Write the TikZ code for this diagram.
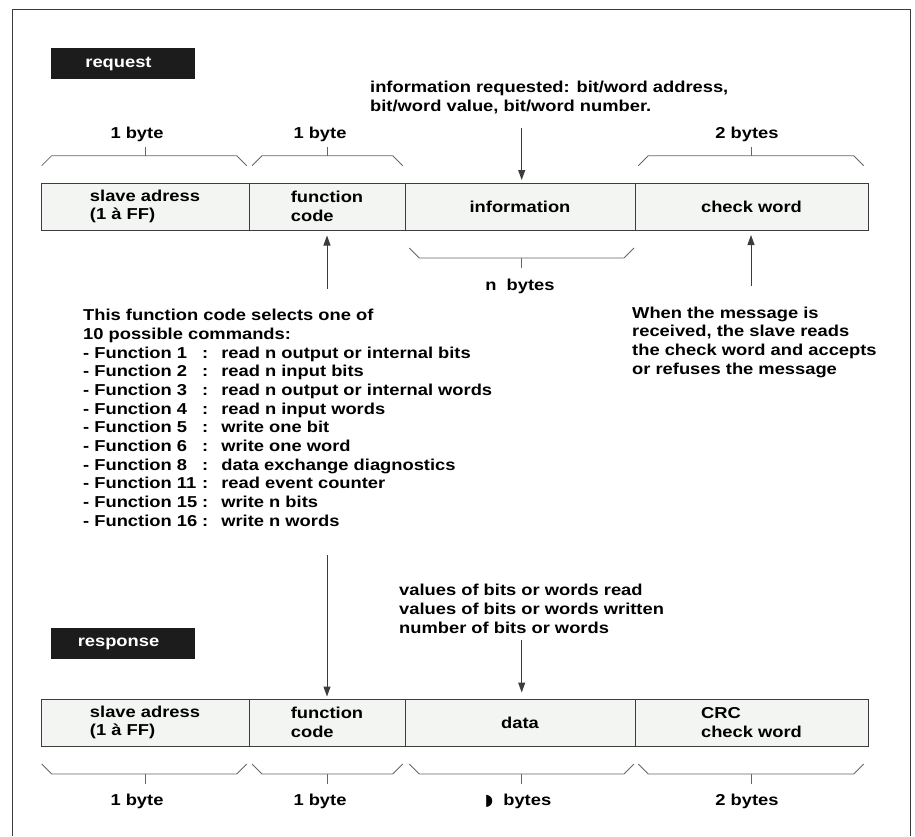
\documentclass[tikz,border=0pt]{standalone}
\usepackage{fontspec}
\setmainfont{Liberation Sans}[FakeStretch=1.16]
\newfontfamily\glyphfont{DejaVu Sans}
\usetikzlibrary{arrows.meta,positioning,calc}
\definecolor{cellfill}{HTML}{F3F5F3}
\definecolor{inkgrey}{HTML}{3C3C3C}
\definecolor{tagblack}{HTML}{1C1C1C}
\newcommand{\fnrow}[2]{\makebox[119pt][l]{- Function #1}:\hspace{13pt}#2}

\tikzset{
  every node/.style={font=\fontsize{15.8}{18.66}\selectfont\bfseries, inner sep=0pt},
  cell/.style={draw=inkgrey, fill=cellfill, line width=1pt, outer sep=0pt, minimum height=47pt, align=left},
  tag/.style={fill=tagblack, minimum width=144pt, minimum height=31pt},
  tagtxt/.style={text=white, xshift=-4.5pt},
  note/.style={align=left, anchor=base west},
  size/.style={anchor=base},
  brace/.style={draw=gray!80!black, line width=0.8pt},
  arr/.style={draw=inkgrey, line width=1pt, -{Triangle[width=7pt,length=10pt]}},
}

\begin{document}
\begin{tikzpicture}[x=1pt,y=-1pt]
\useasboundingbox (0,0) rectangle (915,836);
\draw[inkgrey, line width=1pt] (12,836) -- (12,9) -- (910,9) -- (910,836);

% request frame
\node[tag, label={[tagtxt]center:request}] (reqtag) at (123,63.5) {};
\node[cell, minimum width=208pt] (rslave) at (145,206.5) {slave adress\\(1 à FF)};
\node[cell, minimum width=156pt, right=0pt of rslave] (rfunc) {function\\code};
\node[cell, minimum width=230pt, right=0pt of rfunc] (rinfo) {information};
\node[cell, minimum width=233pt, right=0pt of rinfo] (rcheck) {check word};

\draw[brace] (41.7,165.7) -- ++(10,-10) -- (236.7,155.7) -- ++(10,10);
\draw[brace] (145,155.7) -- ++(0,-9);
\draw[brace] (252,165.7) -- ++(10,-10) -- (392.7,155.7) -- ++(10,10);
\draw[brace] (327,155.7) -- ++(0,-9);
\draw[brace] (638.3,165.7) -- ++(10,-10) -- (853.7,155.7) -- ++(10,10);
\draw[brace] (751,155.7) -- ++(0,-9);
\draw[brace] (409.3,248) -- ++(10,10) -- (624,258) -- ++(10,-10);
\draw[brace] (521.7,258) -- ++(0,10);
\node[size] (rsize1) at (137,138) {1 byte};
\node[size] (rsize2) at (320,138) {1 byte};
\node[size] (rsize4) at (747,138) {2 bytes};
\node[size] (rsize3) at (520,290) {n\ \ bytes};

% base west = baseline of the last line
\node[note] (infonote) at (370,111) {information requested: bit/word address,\\bit/word value, bit/word number.};
\node[note] (funcnote) at (83,526) {This function code selects one of\\10 possible commands:\\
  \fnrow{1}{read n output or internal bits}\\
  \fnrow{2}{read n input bits}\\
  \fnrow{3}{read n output or internal words}\\
  \fnrow{4}{read n input words}\\
  \fnrow{5}{write one bit}\\
  \fnrow{6}{write one word}\\
  \fnrow{8}{data exchange diagnostics}\\
  \fnrow{11 }{read event counter}\\
  \fnrow{15 }{write n bits}\\
  \fnrow{16 }{write n words}};
\node[note] (checknote) at (632,374) {When the message is\\received, the slave reads\\the check word and accepts\\or refuses the message};

\coordinate (infotop) at (521.7,128);
\coordinate (funcfoot) at (327,288.7);
\coordinate (checkfoot) at (751,286);
\draw[arr] (infotop) -- ($(infotop |- rinfo.north)+(0,-3)$);
\draw[arr] (funcfoot) -- ($(rfunc.south)+(0,5.5)$);
\draw[arr] (checkfoot) -- ($(checkfoot |- rcheck.south)+(0,5)$);

% response frame
\node[tag, label={[tagtxt]center:response}] (resptag) at (123,643.5) {};
\node[cell, minimum width=208pt] (aslave) at (145,722.5) {slave adress\\(1 à FF)};
\node[cell, minimum width=156pt, right=0pt of aslave] (afunc) {function\\code};
\node[cell, minimum width=230pt, right=0pt of afunc] (adata) {data};
\node[cell, minimum width=233pt, right=0pt of adata] (acrc) {CRC\\check word};

\draw[brace] (41.7,764) -- ++(10,10) -- (236.7,774) -- ++(10,-10);
\draw[brace] (145,774) -- ++(0,10);
\draw[brace] (252,764) -- ++(10,10) -- (392.7,774) -- ++(10,-10);
\draw[brace] (327,774) -- ++(0,10);
\draw[brace] (409.3,764) -- ++(10,10) -- (624,774) -- ++(10,-10);
\draw[brace] (521.7,774) -- ++(0,10);
\draw[brace] (638.3,764) -- ++(10,10) -- (853.7,774) -- ++(10,-10);
\draw[brace] (751,774) -- ++(0,10);
\node[size] (asize1) at (137,805) {1 byte};
\node[size] (asize2) at (320,805) {1 byte};
\node[size] (asize3) at (518,805) {{\glyphfont ◗}\ \ bytes};
\node[size] (asize4) at (747,805) {2 bytes};

\node[note] (datanote) at (399,633) {values of bits or words read\\values of bits or words written\\number of bits or words};

\coordinate (funcdrop) at (327,555);
\coordinate (datatop) at (521.7,640);
\draw[arr] (funcdrop) -- ($(afunc.north)+(0,-2.5)$);
\draw[arr] (datatop) -- ($(datatop |- adata.north)+(0,-6.5)$);
\end{tikzpicture}
\end{document}
